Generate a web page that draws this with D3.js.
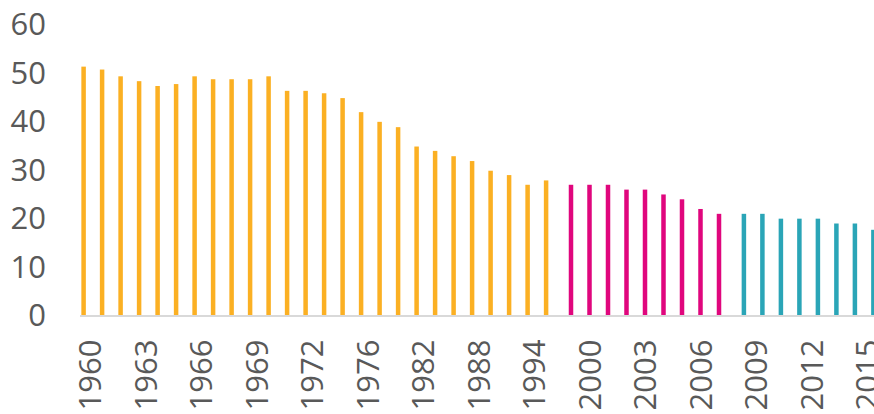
<!DOCTYPE html>
<html>
<head>
<meta charset="utf-8">
<script src="https://cdn.jsdelivr.net/npm/d3@7"></script>
<style>
  html, body { margin: 0; padding: 0; background: #fff; overflow: hidden; }
  svg { display: block; }
  text { font-family: "Open Sans", "Liberation Sans", sans-serif; fill: #595959; }
</style>
</head>
<body>
<svg id="chart" width="874" height="414"></svg>
<script>
// Category axis: years (spacing changes across the period)
const years = [
  1960, 1961, 1962, 1963, 1964, 1965, 1966, 1967, 1968, 1969, 1970, 1971, 1972,
  1974, 1975, 1976, 1978, 1980, 1982, 1984, 1986, 1988, 1990, 1992, 1994, 1996,
  1998, 2000, 2001, 2002, 2003, 2004, 2005, 2006, 2007,
  2008, 2009, 2010, 2011, 2012, 2013, 2014, 2015
];

// Years that carry a tick label
const tickYears = [1960, 1963, 1966, 1969, 1972, 1976, 1982, 1988, 1994, 2000, 2003, 2006, 2009, 2012, 2015];

// Series 1: 1960–1996
const series1Years = years.slice(0, 26);
const series1Values = [
  51.4, 50.8, 49.4, 48.4, 47.4, 47.8, 49.4, 48.8, 48.8, 48.8, 49.4, 46.4, 46.4,
  45.9, 44.9, 42.0, 40.0, 38.9, 34.9, 34.0, 32.9, 31.9, 29.9, 29.0, 27.0, 27.9
];

// Series 2: 1998–2007
const series2Years = years.slice(26, 35);
const series2Values = [27, 27, 27, 26, 26, 25, 24, 22, 21];

// Series 3: 2008–2015
const series3Years = years.slice(35);
const series3Values = [21, 21, 20, 20, 20, 19, 19, 17.7];

const seriesNames = ["s1", "s2", "s3"];
const seriesColors = ["#FBB023", "#E0067D", "#2AA5B7"];
const yTicks = [0, 10, 20, 30, 40, 50, 60];

const rows = [
  ...series1Years.map((y, i) => ({ year: y, value: series1Values[i], series: "s1" })),
  ...series2Years.map((y, i) => ({ year: y, value: series2Values[i], series: "s2" })),
  ...series3Years.map((y, i) => ({ year: y, value: series3Values[i], series: "s3" }))
];

const svg = d3.select("#chart");

const x = d3.scaleBand()
  .domain(years)
  .range([80.75, 80.75 + years.length * 18.5])
  .padding(0);

// Position of each series inside a category
const xSub = d3.scaleBand()
  .domain(seriesNames)
  .range([-9.6, 9.6]);

const color = d3.scaleOrdinal().domain(seriesNames).range(seriesColors);

const y = d3.scaleLinear()
  .domain([0, 60])
  .range([315.5, 25]);

const barWidth = 4.5;

// Bars
svg.append("g")
  .selectAll("rect")
  .data(rows)
  .join("rect")
  .attr("x", d => x(d.year) + x.bandwidth() / 2 + xSub(d.series) + xSub.bandwidth() / 2 - barWidth / 2)
  .attr("y", d => y(d.value))
  .attr("width", barWidth)
  .attr("height", d => y(0) - y(d.value))
  .attr("fill", d => color(d.series));

// Category axis line
svg.append("line")
  .attr("x1", x.range()[0] - 0.75)
  .attr("x2", x.range()[1])
  .attr("y1", y(0) + 0.5)
  .attr("y2", y(0) + 0.5)
  .attr("stroke", "#D9D9D9")
  .attr("stroke-width", 2);

// Value axis labels
const yAxis = d3.axisLeft(y).tickValues(yTicks).tickSize(0).tickPadding(0);
const gy = svg.append("g")
  .attr("transform", "translate(46,0)")
  .call(yAxis);
gy.select(".domain").remove();
gy.selectAll("text")
  .attr("font-size", 31)
  .attr("fill", "#595959")
  .style("font-family", '"Open Sans", "Liberation Sans", sans-serif');

// Category labels, rotated
const xAxis = d3.axisBottom(x).tickValues(tickYears).tickSize(0).tickPadding(0);
const gx = svg.append("g")
  .attr("transform", `translate(0,${y(0)})`)
  .call(xAxis);
gx.select(".domain").remove();
gx.selectAll("text")
  .attr("font-size", 31)
  .attr("fill", "#595959")
  .style("font-family", '"Open Sans", "Liberation Sans", sans-serif')
  .attr("text-anchor", "end")
  .attr("transform", "translate(0,24) rotate(-90)")
  .attr("x", 0)
  .attr("y", 0)
  .attr("dy", "0.36em");
</script>
</body>
</html>
